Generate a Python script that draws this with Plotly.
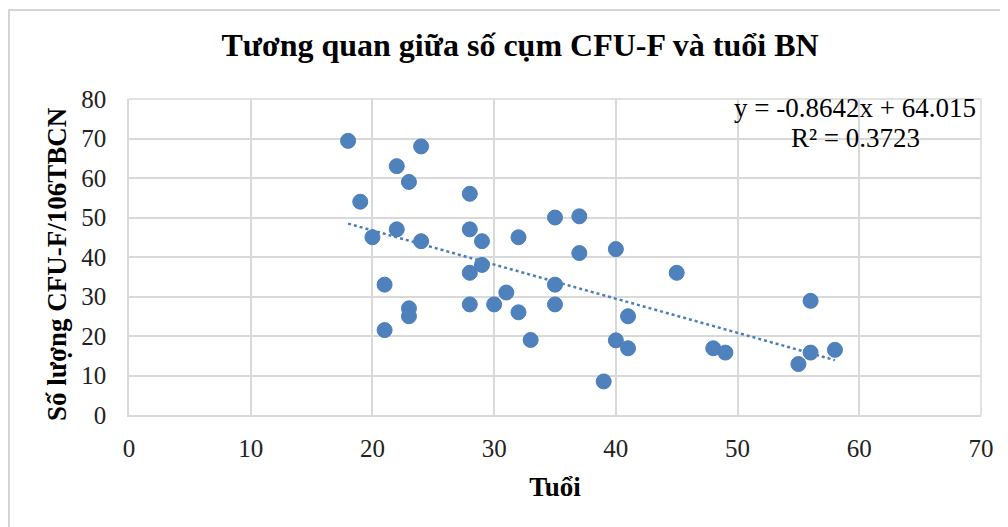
import plotly.graph_objects as go

# Data
age = [18, 24, 22, 23, 19, 28, 35, 37, 22, 28, 20, 32, 24, 29, 37, 29, 28, 35, 21, 31,
       28, 30, 35, 23, 32, 23, 21, 33, 40, 45, 56, 41, 40, 41, 48, 49, 56, 58, 55, 39]
cfu = [69.4, 68.0, 63.0, 59.0, 54.0, 56.0, 50.0, 50.3, 47.0, 47.0, 45.0, 45.0, 44.0, 44.0, 41.0, 38.0, 36.0, 33.0, 33.0, 31.0,
       28.0, 28.0, 28.0, 27.0, 26.0, 25.0, 21.5, 19.0, 42.0, 36.0, 28.9, 25.0, 18.9, 16.9, 16.9, 15.8, 15.8, 16.5, 12.9, 8.5]

slope = -0.8642
intercept = 64.015
r2 = 0.3723

title_text = "Tương quan giữa số cụm CFU-F và tuổi BN"
x_title = "Tuổi"
y_title = "Số lượng CFU-F/106TBCN"

blue = "#4A7EBB"
font_family = "Liberation Serif, Times New Roman, serif"

x_min, x_max = min(age), max(age)
trend_x = [x_min, x_max]
trend_y = [slope * v + intercept for v in trend_x]

W, H = 1000, 519
L, R, T, B = 121, 27, 91, 112
pw, ph = W - L - R, H - T - B


def px_x(sx):
    """screen x (page includes 8px body margin) -> paper x"""
    return (sx - 8 - L) / pw


def px_y(sy):
    return (ph + T - (sy - 8)) / ph


fig = go.Figure()
fig.add_trace(go.Scatter(
    x=trend_x, y=trend_y, mode="lines",
    line=dict(color=blue, width=2.5, dash="dot"),
    showlegend=False, hoverinfo="skip"))
fig.add_trace(go.Scatter(
    x=age, y=cfu, mode="markers",
    marker=dict(color="#4F81BD", size=15, line=dict(color="#4A7EBB", width=1)),
    showlegend=False))

grid = "#D9D9D9"
fig.update_layout(
    width=W, height=H,
    paper_bgcolor="white", plot_bgcolor="white",
    margin=dict(l=L, r=R, t=T, b=B, autoexpand=False),
    font=dict(family=font_family, size=20, color="black"),
    title=dict(text="<b>" + title_text + "</b>", x=(520 - 8) / W, xanchor="center",
               y=1 - (45 - 8) / H, yanchor="middle",
               font=dict(family=font_family, size=32, color="black")),
    xaxis=dict(range=[0, 70], dtick=10, tick0=0, showgrid=True, gridcolor=grid, gridwidth=1.5,
               zeroline=False, showline=True, linecolor=grid, linewidth=1.5,
               ticks="", ticklabelstandoff=10, automargin=False,
               tickfont=dict(family=font_family, size=25, color="#222"),
               title=dict(text="<b>" + x_title + "</b>", standoff=16,
                          font=dict(family=font_family, size=27, color="black"))),
    yaxis=dict(range=[0, 80], dtick=10, tick0=0, showgrid=True, gridcolor=grid, gridwidth=1.5,
               zeroline=False, showline=True, linecolor=grid, linewidth=1.5,
               ticks="", ticklabelstandoff=16, automargin=False,
               tickfont=dict(family=font_family, size=25, color="#222")),
)

# y-axis title as rotated annotation (precise placement)
fig.add_annotation(
    xref="paper", yref="paper", x=px_x(57), y=px_y(264),
    xanchor="center", yanchor="middle", showarrow=False, textangle=-90,
    text="<b>" + y_title + "</b>",
    font=dict(family=font_family, size=27, color="black"))

# right and top edges of the grid (x=70, y=80 gridlines)
fig.add_shape(type="line", xref="paper", yref="paper", x0=1, x1=1, y0=0, y1=1,
              line=dict(color=grid, width=1.5))
fig.add_shape(type="line", xref="paper", yref="paper", x0=0, x1=1, y0=1, y1=1,
              line=dict(color=grid, width=1.5))

# outer chart border (only top and left edges are visible in the reference crop)
fig.add_shape(type="line", xref="paper", yref="paper",
              x0=px_x(8), x1=px_x(1008), y0=px_y(10), y1=px_y(10),
              line=dict(color="#D4D4D4", width=2))
fig.add_shape(type="line", xref="paper", yref="paper",
              x0=px_x(9), x1=px_x(9), y0=px_y(9), y1=px_y(527),
              line=dict(color="#D4D4D4", width=2))

fig.add_annotation(
    xref="paper", yref="paper", x=px_x(855), y=px_y(108),
    xanchor="center", yanchor="middle", showarrow=False,
    text=f"y = {slope}x + {intercept:.3f}",
    font=dict(family=font_family, size=27, color="black"))
fig.add_annotation(
    xref="paper", yref="paper", x=px_x(855), y=px_y(138),
    xanchor="center", yanchor="middle", showarrow=False,
    text=f"R² = {r2}",
    font=dict(family=font_family, size=27, color="black"))

fig.write_html("out.html")
